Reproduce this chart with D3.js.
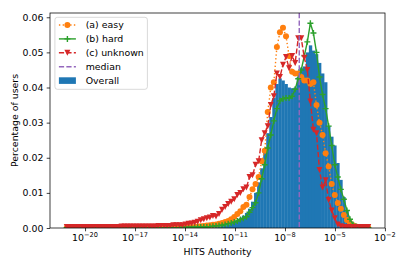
<!DOCTYPE html>
<html>
<head>
<meta charset="utf-8">
<script src="https://cdn.jsdelivr.net/npm/d3@7"></script>
<style>
  body { margin: 0; background: #fff; }
  text { font-family: "DejaVu Sans", sans-serif; }
</style>
</head>
<body>
<svg></svg>
<script>
// log10 range of the histogram bins and how many there are
const binLogMin = -21.19;
const binLogMax = -2.91;
const nBins = 100;

// share of users per bin
const overall = [
  0.00005, 0.00005, 0.00005, 0.00005, 0.00005, 0.00005, 0.00005, 0.00005, 0.00005, 0.00005,
  0.00005, 0.00005, 0.00005, 0.00005, 0.00005, 0.00005, 0.00005, 0.00005, 0.00005, 0.00005,
  0.00005, 0.00005, 0.00005, 0.00005, 0.00005, 0.00005, 0.00005, 0.00005, 0.00005, 0.00005,
  0.00005, 0.00005, 0.00005, 0.00005, 0.00005, 0.00005, 0.00005, 0.00005, 0.00005, 0.00005,
  0.0001, 0.0001, 0.0001, 0.0001, 0.0001, 0.0002, 0.0002, 0.0002, 0.0003, 0.0004,
  0.0005, 0.0006, 0.0008, 0.0010, 0.0013, 0.0017, 0.0022, 0.0028, 0.0035, 0.0043,
  0.0055, 0.0075, 0.0100, 0.0130, 0.0170, 0.0215, 0.0270, 0.0316, 0.0370, 0.0410,
  0.0426, 0.0420, 0.0410, 0.0400, 0.0398, 0.0400, 0.0430, 0.0455, 0.0460, 0.0500,
  0.0520, 0.0505, 0.0495, 0.0470, 0.0440, 0.0415, 0.0290, 0.0260, 0.0235, 0.0185,
  0.0137, 0.0088, 0.0050, 0.0023, 0.0008, 0.0003, 0.0001, 0.0001, 0.0001, 0.0001
];
const easy = [
  0.0001, 0.0001, 0.0001, 0.0001, 0.0001, 0.0001, 0.0001, 0.0001, 0.0001, 0.0001,
  0.0001, 0.0001, 0.0001, 0.0001, 0.0001, 0.0001, 0.0001, 0.0001, 0.0001, 0.0001,
  0.0001, 0.0001, 0.0001, 0.0001, 0.0001, 0.0001, 0.0001, 0.0001, 0.0001, 0.0001,
  0.0001, 0.0001, 0.0001, 0.0001, 0.0001, 0.0001, 0.0002, 0.0002, 0.0002, 0.0002,
  0.0002, 0.0002, 0.0003, 0.0004, 0.0005, 0.0006, 0.0007, 0.0008, 0.0009, 0.0010,
  0.0012, 0.0014, 0.0017, 0.0020, 0.0025, 0.0031, 0.0040, 0.0048, 0.0060, 0.0066,
  0.0088, 0.0110, 0.0125, 0.0145, 0.0190, 0.0220, 0.0330, 0.0400, 0.0415, 0.0515,
  0.0557, 0.0570, 0.0546, 0.0490, 0.0445, 0.0440, 0.0440, 0.0430, 0.0420, 0.0420,
  0.0410, 0.0415, 0.0350, 0.0300, 0.0265, 0.0213, 0.0175, 0.0125, 0.0094, 0.0071,
  0.0055, 0.0037, 0.0023, 0.0014, 0.0008, 0.0004, 0.0002, 0.0001, 0.0001, 0.0001
];
const hard = [
  0.0001, 0.0001, 0.0001, 0.0001, 0.0001, 0.0001, 0.0001, 0.0001, 0.0001, 0.0001,
  0.0001, 0.0001, 0.0001, 0.0001, 0.0001, 0.0001, 0.0001, 0.0001, 0.0001, 0.0001,
  0.0001, 0.0001, 0.0001, 0.0001, 0.0001, 0.0001, 0.0001, 0.0001, 0.0001, 0.0001,
  0.0001, 0.0001, 0.0001, 0.0001, 0.0001, 0.0001, 0.0001, 0.0001, 0.0002, 0.0002,
  0.0002, 0.0002, 0.0002, 0.0002, 0.0003, 0.0003, 0.0003, 0.0004, 0.0005, 0.0006,
  0.0007, 0.0008, 0.0010, 0.0012, 0.0014, 0.0017, 0.0020, 0.0024, 0.0028, 0.0032,
  0.0045, 0.0058, 0.0072, 0.0100, 0.0140, 0.0180, 0.0228, 0.0265, 0.0305, 0.0340,
  0.0362, 0.0368, 0.0370, 0.0370, 0.0375, 0.0395, 0.0425, 0.0450, 0.0490, 0.0530,
  0.0583, 0.0555, 0.0500, 0.0430, 0.0380, 0.0340, 0.0290, 0.0235, 0.0180, 0.0145,
  0.0110, 0.0082, 0.0050, 0.0025, 0.0010, 0.0004, 0.0001, 0.0001, 0.0001, 0.0001
];
const unknown = [
  0.0003, 0.0003, 0.0003, 0.0003, 0.0003, 0.0003, 0.0003, 0.0003, 0.0003, 0.0003,
  0.0003, 0.0003, 0.0003, 0.0003, 0.0003, 0.0003, 0.0003, 0.0003, 0.0004, 0.0004,
  0.0004, 0.0004, 0.0004, 0.0004, 0.0004, 0.0004, 0.0004, 0.0004, 0.0004, 0.0004,
  0.0006, 0.0006, 0.0006, 0.0006, 0.0006, 0.0008, 0.0008, 0.0008, 0.0008, 0.0010,
  0.0012, 0.0013, 0.0015, 0.0018, 0.0022, 0.0025, 0.0028, 0.0030, 0.0034, 0.0033,
  0.0040, 0.0052, 0.0060, 0.0068, 0.0075, 0.0082, 0.0094, 0.0100, 0.0110, 0.0115,
  0.0145, 0.0150, 0.0180, 0.0190, 0.0250, 0.0270, 0.0290, 0.0350, 0.0375, 0.0440,
  0.0430, 0.0465, 0.0487, 0.0455, 0.0490, 0.0470, 0.0540, 0.0540, 0.0485, 0.0450,
  0.0360, 0.0280, 0.0270, 0.0165, 0.0115, 0.0136, 0.0080, 0.0050, 0.0028, 0.0010,
  0.0005, 0.0003, 0.0003, 0.0003, 0.0003, 0.0003, 0.0003, 0.0003, 0.0003, 0.0003
];
const medianValue = 7.2e-8;

const yTicks = [0, 0.01, 0.02, 0.03, 0.04, 0.05, 0.06];
const xTickExps = [-20, -17, -14, -11, -8, -5, -2];

const legendItems = [
  { label: "(a) easy", kind: "easy" },
  { label: "(b) hard", kind: "hard" },
  { label: "(c) unknown", kind: "unknown" },
  { label: "median", kind: "median" },
  { label: "Overall", kind: "overall" }
];

const colors = {
  easy: "#ff7f0e", hard: "#2ca02c", unknown: "#d62728",
  median: "#9467bd", overall: "#1f77b4"
};
const dashes = { easy: "1.41,2.33", hard: null, unknown: "5.2,2.26", median: "5.2,2.26" };

const svgWidth = 407;
const svgHeight = 271;
const margin = { top: 13, right: 22, bottom: 43, left: 50 };
const width = svgWidth - margin.left - margin.right;
const height = svgHeight - margin.top - margin.bottom;
const fs = 9.4;

const svg = d3.select("svg")
  .attr("width", svgWidth)
  .attr("height", svgHeight);

const g = svg.append("g")
  .attr("transform", "translate(" + margin.left + "," + margin.top + ")");

// bins (log spaced, like np.logspace)
const step = (binLogMax - binLogMin) / nBins;
const bins = d3.range(nBins).map((i) => ({
  lo: Math.pow(10, binLogMin + i * step),
  hi: Math.pow(10, binLogMin + (i + 1) * step),
  mid: Math.pow(10, binLogMin + (i + 0.5) * step)
}));

const pad = 0.05 * (binLogMax - binLogMin);
const xScale = d3.scaleLog()
  .domain([Math.pow(10, binLogMin - pad), Math.pow(10, binLogMax + pad)])
  .range([0, width]);

const yMax = d3.max([overall, easy, hard, unknown], (s) => d3.max(s)) * 1.05;
const yScale = d3.scaleLinear()
  .domain([0, yMax])
  .range([height, 0]);

svg.append("defs").append("clipPath").attr("id", "clip")
  .append("rect").attr("width", width).attr("height", height);

const plot = g.append("g").attr("clip-path", "url(#clip)");

// histogram
plot.append("g").selectAll("rect")
  .data(bins)
  .join("rect")
  .attr("x", (d) => xScale(d.lo))
  .attr("width", (d) => xScale(d.hi) - xScale(d.lo) + 0.3)
  .attr("y", (d, i) => yScale(overall[i]))
  .attr("height", (d, i) => height - yScale(overall[i]))
  .attr("fill", colors.overall);

const line = d3.line()
  .x((d) => xScale(d.x))
  .y((d) => yScale(d.y));

const lw = 1.41;
const ms = 6;

function drawMarker(sel, kind, x, y) {
  const r = ms / 2;
  if (kind === "easy") {
    sel.append("circle").attr("cx", x).attr("cy", y).attr("r", r)
      .attr("fill", colors.easy);
  } else if (kind === "hard") {
    sel.append("path")
      .attr("d", `M${x - r},${y}H${x + r}M${x},${y - r}V${y + r}`)
      .attr("stroke", colors.hard).attr("stroke-width", lw).attr("fill", "none");
  } else if (kind === "unknown") {
    sel.append("path")
      .attr("d", `M${x - r},${y - r}L${x + r},${y - r}L${x},${y + r}Z`)
      .attr("fill", colors.unknown);
  }
}

["easy", "hard", "unknown"].forEach((kind) => {
  const values = { easy, hard, unknown }[kind];
  const pts = bins.map((b, i) => ({ x: b.mid, y: values[i] }));
  const sg = plot.append("g");
  sg.append("path")
    .datum(pts)
    .attr("fill", "none")
    .attr("stroke", colors[kind])
    .attr("stroke-width", lw)
    .attr("stroke-dasharray", dashes[kind])
    .attr("d", line);
  pts.forEach((p) => drawMarker(sg, kind, xScale(p.x), yScale(p.y)));
});

// median line
plot.append("line")
  .attr("x1", xScale(medianValue)).attr("x2", xScale(medianValue))
  .attr("y1", 0).attr("y2", height)
  .attr("stroke", colors.median)
  .attr("stroke-width", lw)
  .attr("stroke-dasharray", dashes.median);

// axes
const yAxis = g.append("g")
  .call(d3.axisLeft(yScale).tickValues(yTicks).tickFormat(d3.format(".2f")).tickSize(3.3).tickPadding(3.3));
const xAxis = g.append("g")
  .attr("transform", "translate(0," + height + ")")
  .call(d3.axisBottom(xScale).tickValues(xTickExps.map((e) => Math.pow(10, e))).tickFormat("").tickSize(3.3));

[xAxis, yAxis].forEach((a) => {
  a.select(".domain").remove();
  a.selectAll("line").attr("stroke", "#000").attr("stroke-width", 0.75);
  a.selectAll("text").attr("font-size", fs).attr("fill", "#000").attr("font-family", "DejaVu Sans");
});

// x tick labels as 10^n
xTickExps.forEach((e) => {
  const t = xAxis.append("text")
    .attr("x", xScale(Math.pow(10, e)))
    .attr("y", 13)
    .attr("text-anchor", "middle")
    .attr("font-size", fs)
    .attr("fill", "#000");
  t.append("tspan").text("10");
  t.append("tspan").attr("dy", -4.2).attr("font-size", 6.6).text("\u2212" + Math.abs(e));
});

// frame
g.append("rect")
  .attr("width", width).attr("height", height)
  .attr("fill", "none").attr("stroke", "#000").attr("stroke-width", 0.75);

// axis labels
g.append("text")
  .attr("x", width / 2).attr("y", height + 27)
  .attr("text-anchor", "middle").attr("font-size", fs)
  .text("HITS Authority");

g.append("text")
  .attr("transform", "rotate(-90)")
  .attr("x", -height / 2).attr("y", -32)
  .attr("text-anchor", "middle").attr("font-size", fs)
  .text("Percentage of users");

// legend
const lg = g.append("g").attr("transform", "translate(4.9,4.3)");
lg.append("rect")
  .attr("width", 92.5).attr("height", 72)
  .attr("rx", 2.5)
  .attr("fill", "#fff").attr("fill-opacity", 0.8)
  .attr("stroke", "#ccc").attr("stroke-width", 0.75);

legendItems.forEach((item, i) => {
  const cy = 7.7 + i * 13.9;
  const row = lg.append("g");
  const x0 = 4, x1 = 21;
  if (item.kind === "overall") {
    row.append("rect").attr("x", x0).attr("y", cy - 3.3).attr("width", x1 - x0).attr("height", 6.6)
      .attr("fill", colors.overall);
  } else {
    row.append("line").attr("x1", x0).attr("x2", x1).attr("y1", cy).attr("y2", cy)
      .attr("stroke", colors[item.kind]).attr("stroke-width", lw)
      .attr("stroke-dasharray", dashes[item.kind]);
    drawMarker(row, item.kind, (x0 + x1) / 2, cy);
  }
  row.append("text")
    .attr("x", 30.8).attr("y", cy + 3.4)
    .attr("font-size", fs)
    .text(item.label);
});
</script>
</body>
</html>
